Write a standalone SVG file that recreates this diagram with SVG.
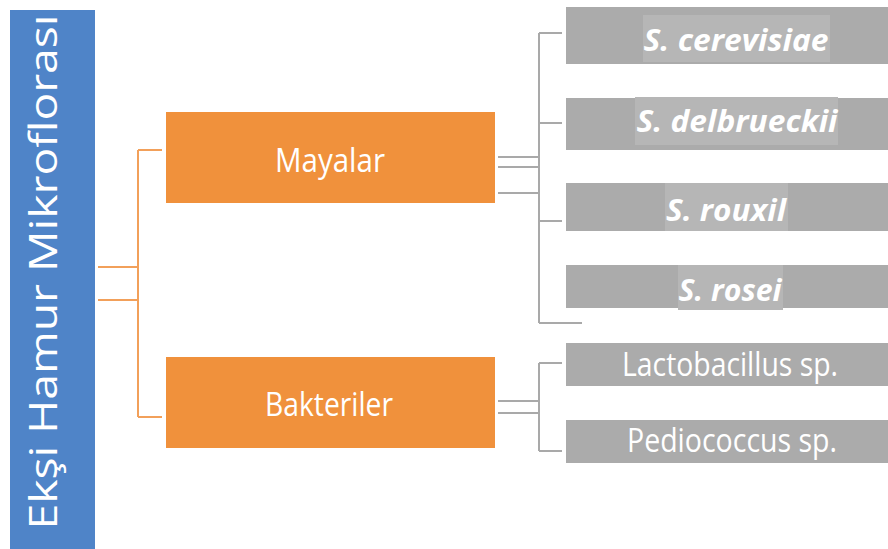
<svg xmlns="http://www.w3.org/2000/svg" width="888" height="549" viewBox="0 0 888 549">
<style>
.t{font-family:"Open Sans","Liberation Sans",sans-serif;fill:#fff}
.orange{fill:#F0913C}
.gray{fill:#ABABAB}
.hl{fill:#B6B6B6}
.oc{stroke:#F2A05A;stroke-width:2;fill:none}
.gc{stroke:#A9A9A9;stroke-width:2;fill:none}
.sp{font-weight:bold;font-style:italic;font-size:30px}
.bt{font-size:32px}
</style>
<rect width="888" height="549" fill="#fff"/>
<g id="title">
<rect x="10" y="10" width="85" height="539" fill="#4F84C8"/>
<text class="t" transform="translate(57,272) rotate(-90)" text-anchor="middle" font-size="38" textLength="515" lengthAdjust="spacingAndGlyphs">Ekşi Hamur Mikroflorası</text>
</g>
<g id="connectors">
<path class="oc" d="M98 267H138M98 300H138M138 150V417M138 150H162M138 417H162"/>
<path class="gc" d="M498 157H539M498 167H539M498 193H539M539 33V323M539 33H562M539 123H562M539 221H562M539 323H582"/>
<path class="gc" d="M498 401H539M498 413H539M539 363V451M539 363H562M539 451H562"/>
</g>
<g id="mayalar">
<rect class="orange" x="166" y="112" width="329" height="91"/>
<text class="t" x="330" y="172" text-anchor="middle" font-size="33" textLength="110" lengthAdjust="spacingAndGlyphs">Mayalar</text>
</g>
<g id="bakteriler">
<rect class="orange" x="166" y="357" width="329" height="91"/>
<text class="t" x="329" y="416" text-anchor="middle" font-size="33" textLength="128" lengthAdjust="spacingAndGlyphs">Bakteriler</text>
</g>
<g id="cerevisiae">
<rect class="gray" x="566" y="7" width="322" height="57"/>
<rect class="hl" x="643" y="15" width="187" height="47"/>
<text class="t sp" x="736" y="51" text-anchor="middle" textLength="185" lengthAdjust="spacingAndGlyphs">S. cerevisiae</text>
</g>
<g id="delbrueckii">
<rect class="gray" x="566" y="98" width="322" height="52"/>
<rect class="hl" x="635" y="97" width="203" height="48"/>
<text class="t sp" x="737" y="132" text-anchor="middle" textLength="201" lengthAdjust="spacingAndGlyphs">S. delbrueckii</text>
</g>
<g id="rouxil">
<rect class="gray" x="566" y="183" width="322" height="48"/>
<rect class="hl" x="665" y="183" width="123" height="48"/>
<text class="t sp" x="726" y="221" text-anchor="middle" textLength="120" lengthAdjust="spacingAndGlyphs">S. rouxil</text>
</g>
<g id="rosei">
<rect class="gray" x="566" y="265" width="322" height="43"/>
<rect class="hl" x="678" y="265" width="105" height="45"/>
<text class="t sp" x="730" y="301" text-anchor="middle" textLength="103" lengthAdjust="spacingAndGlyphs">S. rosei</text>
</g>
<g id="lactobacillus">
<rect class="gray" x="566" y="343" width="322" height="43"/>
<text class="t bt" x="730" y="376" text-anchor="middle" textLength="216" lengthAdjust="spacingAndGlyphs">Lactobacillus sp.</text>
</g>
<g id="pediococcus">
<rect class="gray" x="566" y="420" width="322" height="43"/>
<text class="t bt" x="732" y="452" text-anchor="middle" textLength="210" lengthAdjust="spacingAndGlyphs">Pediococcus sp.</text>
</g>
</svg>
